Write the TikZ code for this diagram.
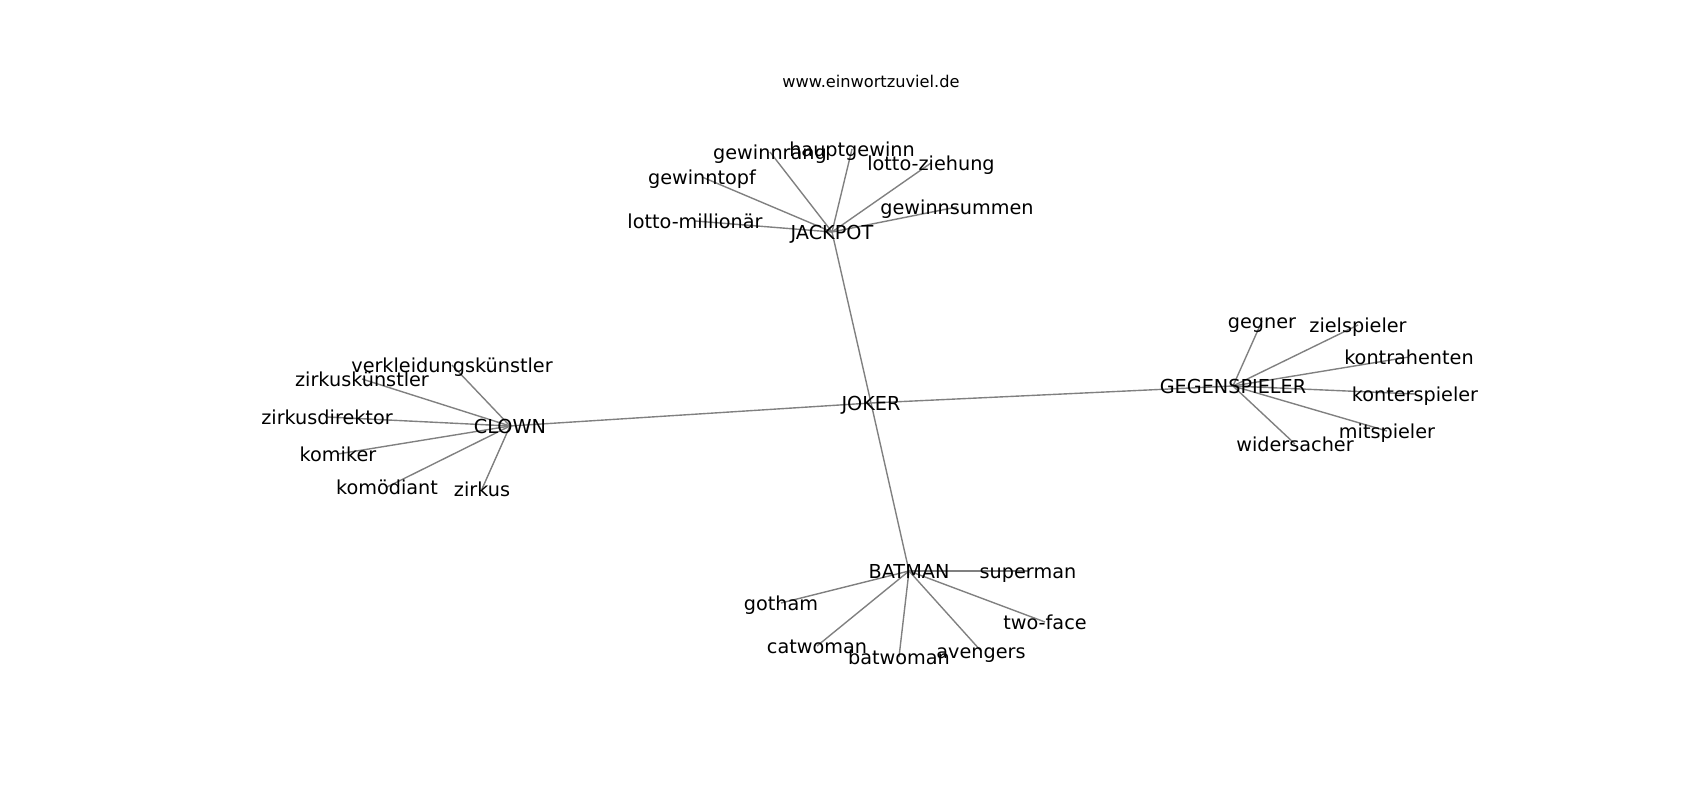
\documentclass[tikz,border=0pt]{standalone}
\usepackage{fontspec}
\setmainfont{DejaVu Sans}
\begin{document}
\begin{tikzpicture}[x=0.01in,y=-0.01in,
  lbl/.style={inner sep=0pt,anchor=center,yshift=-2.9pt,font=\fontsize{13.9}{16}\selectfont,text height=0.76em,text depth=0.24em},
  ttl/.style={inner sep=0pt,anchor=center,font=\fontsize{11.7}{14}\selectfont,text height=0.76em,text depth=0.24em},
  edge/.style={draw=black!50,line width=1pt}]
\useasboundingbox (0,0) rectangle (1700,800);
\fill[white] (0,0) rectangle (1700,800);
% node positions
\coordinate (joker) at (871,403);
\coordinate (jackpot) at (832,232);
\coordinate (clown) at (510,426);
\coordinate (gegen) at (1233,386);
\coordinate (batman) at (909,571);
\coordinate (lm) at (695,221);
\coordinate (gt) at (702,177);
\coordinate (gr) at (770,152);
\coordinate (hg) at (852,149);
\coordinate (lz) at (931,163);
\coordinate (gs) at (957,207);
\coordinate (vk) at (452,365);
\coordinate (zk) at (362,379);
\coordinate (zd) at (327,417);
\coordinate (ko) at (338,454);
\coordinate (km) at (387,487);
\coordinate (zi) at (482,489);
\coordinate (ge) at (1262,321);
\coordinate (zs) at (1358,325);
\coordinate (kh) at (1409,357);
\coordinate (ks) at (1415,394);
\coordinate (ms) at (1387,431);
\coordinate (ws) at (1295,444);
\coordinate (su) at (1028,571);
\coordinate (go) at (781,603);
\coordinate (tf) at (1045,622);
\coordinate (cw) at (817,646);
\coordinate (bw) at (899,657);
\coordinate (av) at (981,651);
% edges
\foreach \a/\b in {joker/jackpot,joker/clown,joker/gegen,joker/batman,
  jackpot/lm,jackpot/gt,jackpot/gr,jackpot/hg,jackpot/lz,jackpot/gs,
  clown/vk,clown/zk,clown/zd,clown/ko,clown/km,clown/zi,
  gegen/ge,gegen/zs,gegen/kh,gegen/ks,gegen/ms,gegen/ws,
  batman/su,batman/go,batman/tf,batman/cw,batman/bw,batman/av}
  \draw[edge] (\a) -- (\b);
% labels
\node[ttl] (title) at (871,84) {www.einwortzuviel.de};
\node[lbl] (njoker) at (joker) {JOKER};
\node[lbl] (njackpot) at (jackpot) {JACKPOT};
\node[lbl] (nclown) at (clown) {CLOWN};
\node[lbl] (ngegen) at (gegen) {GEGENSPIELER};
\node[lbl] (nbatman) at (batman) {BATMAN};
\node[lbl] (nlm) at (lm) {lotto-millionär};
\node[lbl] (ngt) at (gt) {gewinntopf};
\node[lbl] (ngr) at (gr) {gewinnrang};
\node[lbl] (nhg) at (hg) {hauptgewinn};
\node[lbl] (nlz) at (lz) {lotto-ziehung};
\node[lbl] (ngs) at (gs) {gewinnsummen};
\node[lbl] (nvk) at (vk) {verkleidungskünstler};
\node[lbl] (nzk) at (zk) {zirkuskünstler};
\node[lbl] (nzd) at (zd) {zirkusdirektor};
\node[lbl] (nko) at (ko) {komiker};
\node[lbl] (nkm) at (km) {komödiant};
\node[lbl] (nzi) at (zi) {zirkus};
\node[lbl] (nge) at (ge) {gegner};
\node[lbl] (nzs) at (zs) {zielspieler};
\node[lbl] (nkh) at (kh) {kontrahenten};
\node[lbl] (nks) at (ks) {konterspieler};
\node[lbl] (nms) at (ms) {mitspieler};
\node[lbl] (nws) at (ws) {widersacher};
\node[lbl] (nsu) at (su) {superman};
\node[lbl] (ngo) at (go) {gotham};
\node[lbl] (ntf) at (tf) {two-face};
\node[lbl] (ncw) at (cw) {catwoman};
\node[lbl] (nbw) at (bw) {batwoman};
\node[lbl] (nav) at (av) {avengers};
\end{tikzpicture}
\end{document}
